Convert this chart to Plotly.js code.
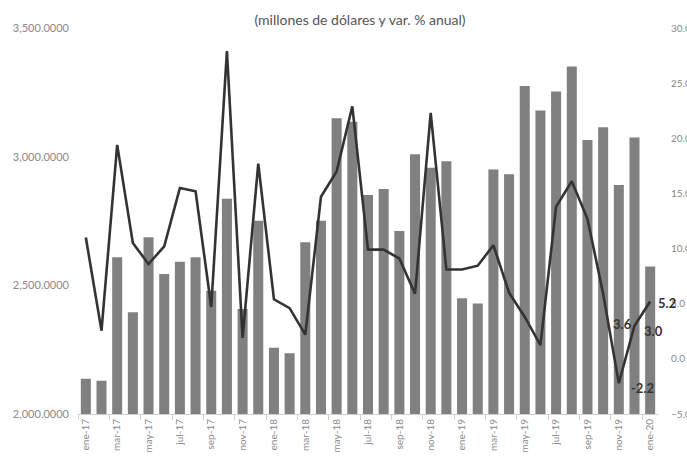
<!DOCTYPE html>
<html>
<head>
<meta charset="utf-8">
<script src="https://cdn.plot.ly/plotly-3.0.1.min.js"></script>
<style>html,body{margin:0;padding:0;background:#fff;}#chart{width:687px;height:464px;}</style>
</head>
<body>
<div id="chart"></div>
<script>
var categories = ["ene-17","feb-17","mar-17","abr-17","may-17","jun-17","jul-17","ago-17","sep-17","oct-17","nov-17","dic-17",
  "ene-18","feb-18","mar-18","abr-18","may-18","jun-18","jul-18","ago-18","sep-18","oct-18","nov-18","dic-18",
  "ene-19","feb-19","mar-19","abr-19","may-19","jun-19","jul-19","ago-19","sep-19","oct-19","nov-19","dic-19","ene-20"];
var montos = [2137,2129,2609,2395,2687,2544,2592,2609,2479,2836,2408,2751,
  2257,2236,2667,2751,3149,3136,2851,2874,2711,3009,2957,2982,
  2450,2429,2950,2932,3275,3179,3253,3350,3065,3114,2890,3074,2573];
var variacion = [11.0,2.55,19.4,10.5,8.6,10.2,15.5,15.2,4.7,27.9,1.9,17.7,
  5.4,4.6,2.2,14.7,17.0,22.9,9.9,9.9,9.1,5.9,22.3,8.1,
  8.1,8.45,10.3,6.0,3.8,1.25,13.8,16.1,12.7,5.9,-2.2,3.0,5.2];
var labelCats = ["nov-19","dic-19","dic-19","ene-20"];
var labelVals = [-2.2,3.0,3.0,5.2];
var labelTexts = ["-2.2","3.6","3.0","5.2"];
var labelShifts = [[24,-5],[-12,2],[19,-5],[17,-1]];

var tickFont = {family:"Lato, 'Open Sans', sans-serif", size:10, color:"#8a8a8a"};
var leftFont = {family:"Lato, 'Open Sans', sans-serif", size:11, color:"#8a8a8a"};

var traces = [
  {type:"bar", x:categories, y:montos, marker:{color:"#808080"}, yaxis:"y", hoverinfo:"x+y"},
  {type:"scatter", mode:"lines", x:categories, y:variacion, yaxis:"y2",
   line:{color:"#333333", width:2.6}}
];

var annotations = labelTexts.map(function(t,i){
  return {x:labelCats[i], y:labelVals[i], xref:"x", yref:"y2", text:"<b>"+t+"</b>",
    showarrow:false, xshift:labelShifts[i][0], yshift:labelShifts[i][1],
    font:{family:"Lato, 'Open Sans', sans-serif", size:13, color:"#333"}};
});

var layout = {
  width:687, height:464,
  margin:{l:78, r:29, t:28, b:50},
  paper_bgcolor:"#fff", plot_bgcolor:"#fff",
  showlegend:false,
  bargap:0.36,
  title:{text:"(millones de dólares y var. % anual)", x:0.524, xanchor:"center", y:0.968, yanchor:"top",
    font:{family:"Lato, 'Open Sans', sans-serif", size:14, color:"#555"}},
  xaxis:{type:"category", range:[-0.5,36.5], tickmode:"linear", tick0:0, dtick:2,
    tickangle:-90, tickfont:tickFont, showgrid:false, zeroline:false,
    showline:true, linecolor:"#d0d0d0", linewidth:1,
    ticks:"outside", tickson:"boundaries", ticklen:5, tickcolor:"#d0d0d0"},
  yaxis:{range:[2000,3500], dtick:500, tickformat:",.4f", tickfont:leftFont,
    showgrid:false, zeroline:false, showline:false, ticks:"", ticklabelstandoff:8},
  yaxis2:{overlaying:"y", side:"right", range:[-5,30], dtick:5, tickformat:".1f",
    tickfont:tickFont, showgrid:false, zeroline:false, showline:false, ticks:"", ticklabelstandoff:12},
  annotations:annotations
};

Plotly.newPlot("chart", traces, layout, {displayModeBar:false, staticPlot:true});
</script>
</body>
</html>
